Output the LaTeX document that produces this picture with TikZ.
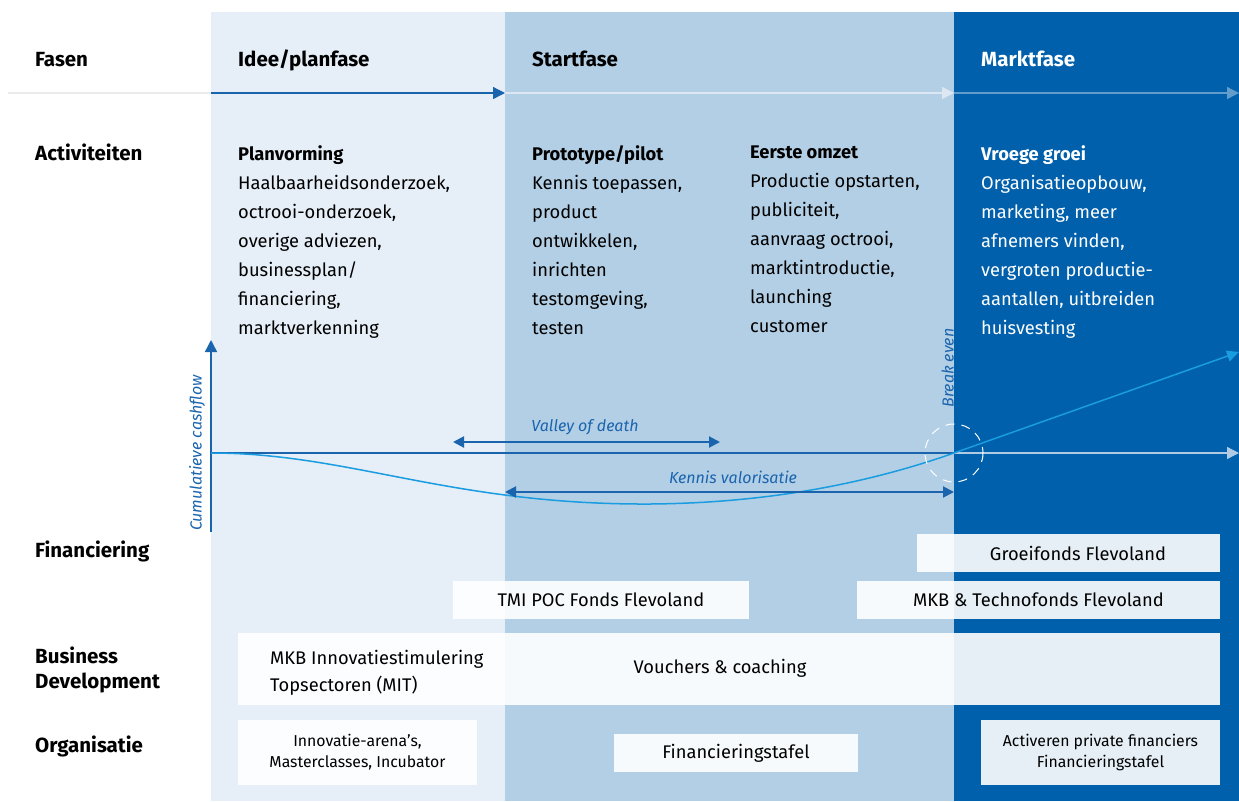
\documentclass[tikz,border=0pt]{standalone}
\usepackage{fontspec}
\setmainfont{Fira Sans}
\usetikzlibrary{positioning,calc,arrows.meta}

\definecolor{bandA}{HTML}{E6EEF7}
\definecolor{bandB}{HTML}{B3CFE5}
\definecolor{bandC}{HTML}{0060AC}
\definecolor{lineblue}{HTML}{1A64AE}
\definecolor{curveblue}{HTML}{1A9CE0}
\definecolor{paleline}{HTML}{DCE7F3}

\tikzset{
  rowlabel/.style={font=\bfseries\fontsize{20.5}{25}\selectfont, anchor=base west, inner sep=0pt, align=left},
  phase/.style={font=\bfseries\fontsize{20.5}{25}\selectfont, anchor=base west, inner sep=0pt},
  activity/.style={font=\fontsize{18.3}{29}\selectfont, anchor=base west, inner sep=0pt, align=left},
  axislabel/.style={font=\itshape\fontsize{16}{20}\selectfont, text=lineblue, inner sep=0pt},
  fundbox/.style={fill=white, fill opacity=0.9, text opacity=1, inner sep=0pt,
    font=\fontsize{18.3}{27}\selectfont, align=center},
  smallbox/.style={fundbox, font=\fontsize{15.8}{21}\selectfont},
  flowarrow/.style={-{Triangle[length=12pt,width=12pt]}, line width=1.3pt},
  spanarrow/.style={{Triangle[length=11pt,width=11pt]}-{Triangle[length=11pt,width=11pt]}, line width=2pt, lineblue}
}

\begin{document}
\begin{tikzpicture}[x=1pt,y=-1pt]
  \useasboundingbox (0,0) rectangle (1239,801);

  % Phase bands
  \fill[bandA] (211,12) rectangle (505,801);
  \fill[bandB] (505,12) rectangle (954,801);
  \fill[bandC] (954,12) rectangle (1239,801);

  % Phase arrow
  \coordinate (fstart) at (8,93);
  \coordinate (fidea) at (211,93);
  \coordinate (fstartup) at (505,93);
  \coordinate (fmarket) at (954,93);
  \coordinate (fend) at (1239,93);
  \draw[line width=1.3pt, black!8] (fstart) -- (fidea);
  \draw[flowarrow, lineblue] (fidea) -- (fstartup);
  \draw[flowarrow, paleline] (fstartup) -- (fmarket);
  \draw[flowarrow, bandB!55!bandC] (fmarket) -- (fend);

  % Row labels (base = last line)
  \node[rowlabel] (fasen) at (35,66) {Fasen};
  \node[rowlabel] (activiteiten) at (35,160) {Activiteiten};
  \node[rowlabel] (financiering) at (35,557) {Financiering};
  \node[rowlabel] (busdev) at (35,688) {Business\\Development};
  \node[rowlabel] (organisatie) at (35,752) {Organisatie};

  % Phase names
  \node[phase] (idee) at (238,66) {Idee/planfase};
  \node[phase] (start) at (532,66) {Startfase};
  \node[phase, text=white] (markt) at (981,66) {Marktfase};

  % Activities
  \node[activity] (plan) at (238,334) {\textbf{Planvorming}\\Haalbaarheidsonderzoek,\\octrooi-onderzoek,\\overige adviezen,\\businessplan/\\financiering,\\marktverkenning};
  \node[activity] (proto) at (532,334) {\textbf{Prototype/pilot}\\Kennis toepassen,\\product\\ontwikkelen,\\inrichten\\testomgeving,\\testen};
  \node[activity] (omzet) at (750,332) {\textbf{Eerste omzet}\\Productie opstarten,\\publiciteit,\\aanvraag octrooi,\\marktintroductie,\\launching\\customer};
  \node[activity, text=white] (groei) at (981,334) {\textbf{Vroege groei}\\Organisatieopbouw,\\marketing, meer\\afnemers vinden,\\vergroten productie-\\aantallen, uitbreiden\\huisvesting};

  % Cashflow graph
  \coordinate (origin) at (211,453);
  \coordinate (ytop) at (211,340);
  \coordinate (ybottom) at (211,532);
  \coordinate (breakeven) at (954,453);
  \coordinate (xend) at (1239,453);
  \coordinate (growth) at (1239,352);
  \draw[flowarrow, lineblue, line width=1.5pt] (ybottom) -- (ytop);
  \draw[lineblue, line width=1.5pt] (origin) -- (breakeven);
  \draw[flowarrow, paleline!80!bandC] (breakeven) -- (xend);
  \draw[curveblue, line width=1.5pt, -{Triangle[length=12pt,width=11pt]}]
    (origin) .. controls (350,453) and (450,505) .. (650,504)
    .. controls (780,503) and (880,479) .. (breakeven) -- (growth);
  \draw[white, dashed, dash pattern=on 9pt off 7pt, line width=1pt] (breakeven) circle (29);
  \node[axislabel, rotate=90] (cashflow) at (197,453) {Cumulatieve cashflow};
  \node[axislabel, rotate=90, anchor=south] (beven) at (954,368) {Break even};

  % Spans
  \coordinate (vleft) at (453,442);
  \coordinate (vright) at (720,442);
  \coordinate (kleft) at (505,492);
  \coordinate (kright) at (954,492);
  \draw[spanarrow] (vleft) -- (vright);
  \draw[spanarrow] (kleft) -- (kright);
  \node[axislabel] (valley) at (585,427) {Valley of death};
  \node[axislabel] (kennis) at (733,477) {Kennis valorisatie};

  % Financiering
  \node[fundbox, minimum width=303pt, minimum height=38pt] (groeifonds) at (1068.5,553) {};
  \node[inner sep=0pt, font=\fontsize{18.3}{27}\selectfont] (groeitext) at (1078,553) {Groeifonds Flevoland};
  \node[fundbox, minimum width=296pt, minimum height=38pt] (tmi) at (601,600) {TMI POC Fonds Flevoland};
  \node[fundbox, minimum width=363pt, minimum height=38pt] (mkbfonds) at (1038.5,600) {MKB \& Technofonds Flevoland};

  % Business development
  \node[fundbox, minimum width=982pt, minimum height=72pt] (vouchers) at (729,669) {};
  \node[activity, font=\fontsize{18.3}{27}\selectfont] (mit) at (270,691) {MKB Innovatiestimulering\\Topsectoren (MIT)};
  \node[inner sep=0pt, font=\fontsize{18.3}{27}\selectfont] (coaching) at (720,668) {Vouchers \& coaching};

  % Organisatie
  \node[smallbox, minimum width=239pt, minimum height=65pt] (arena) at (357.5,752.5) {Innovatie-arena's,\\Masterclasses, Incubator};
  \node[fundbox, minimum width=244pt, minimum height=38pt] (tafel) at (736,753) {Financieringstafel};
  \node[smallbox, minimum width=239pt, minimum height=65pt] (private) at (1100.5,752.5) {Activeren private financiers\\Financieringstafel};
\end{tikzpicture}
\end{document}
